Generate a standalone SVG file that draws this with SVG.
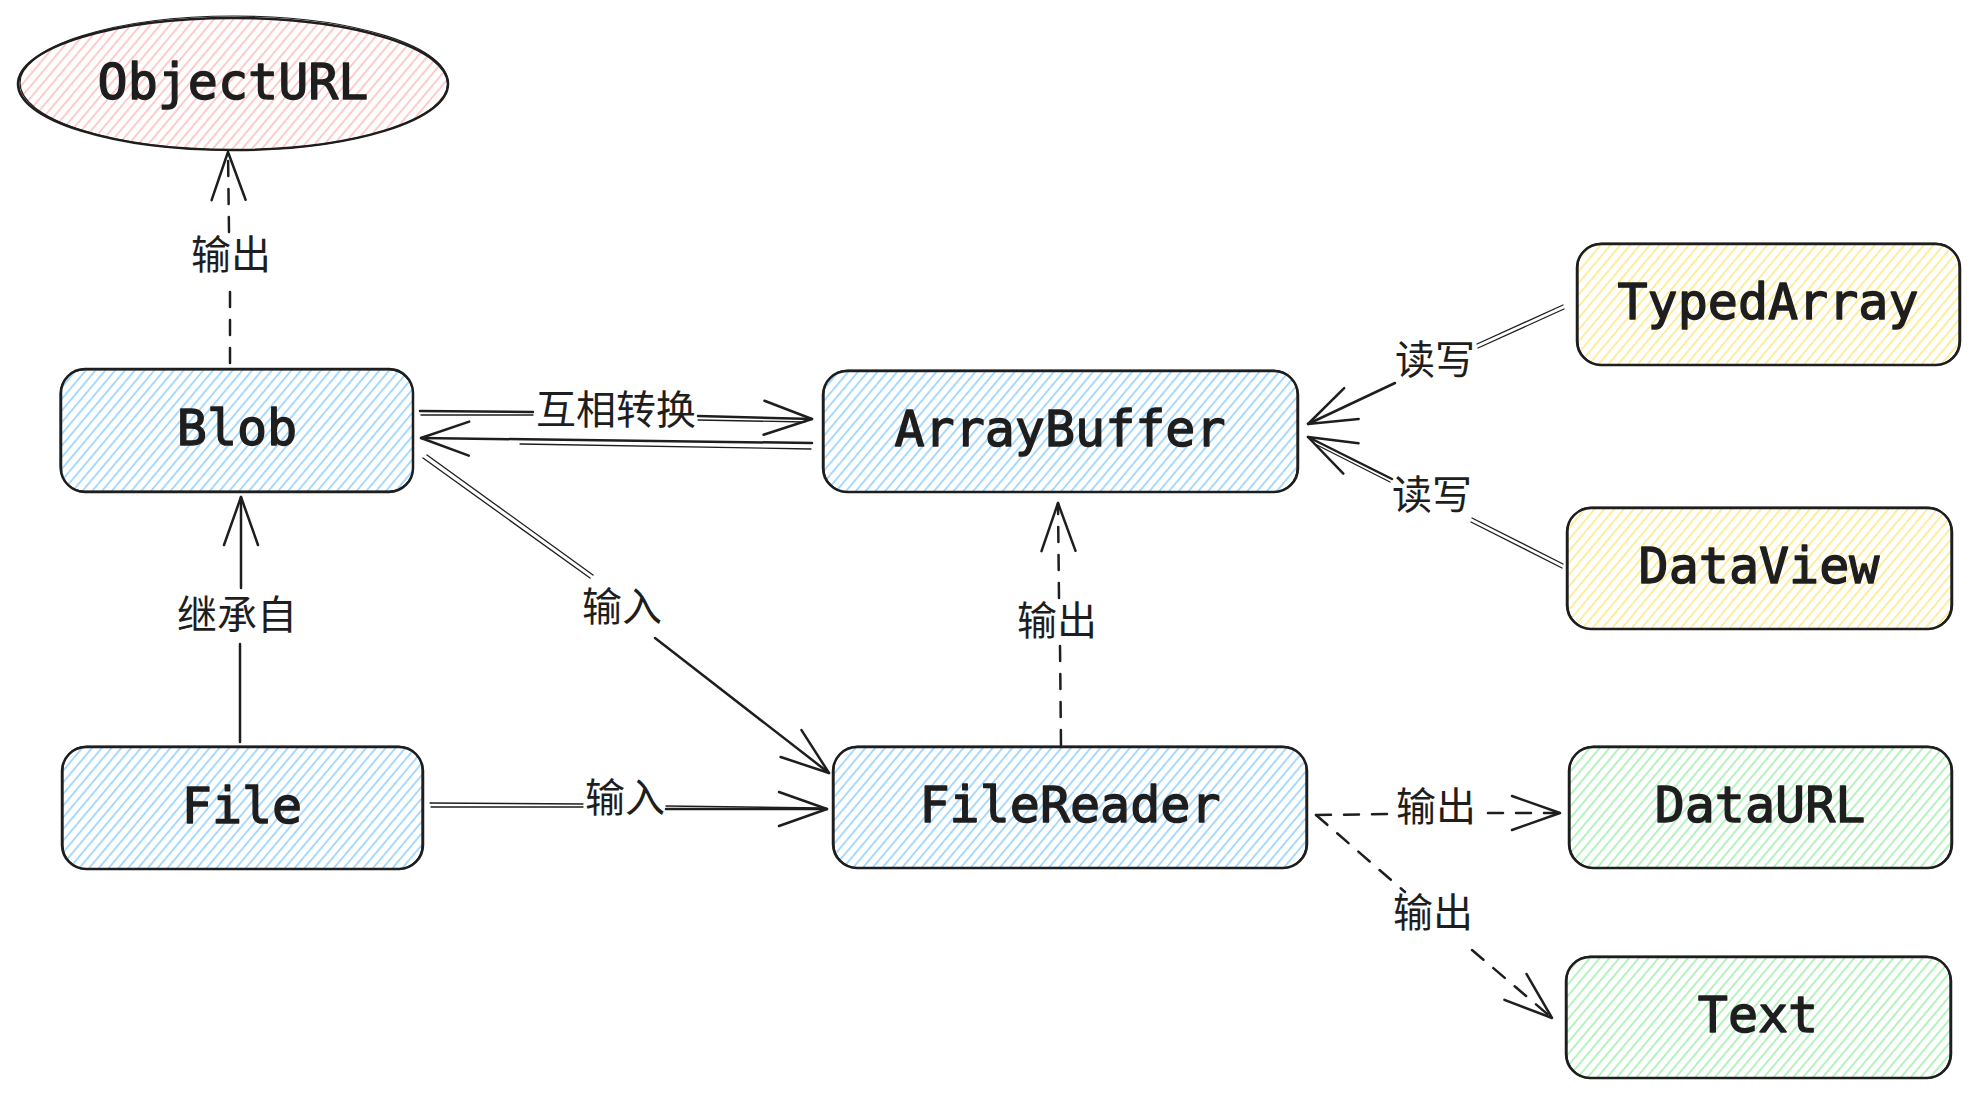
<svg xmlns="http://www.w3.org/2000/svg" width="1980" height="1098" viewBox="0 0 1980 1098">
  <defs>
    <pattern id="h-blue" patternUnits="userSpaceOnUse" width="7.5" height="20" patternTransform="rotate(40)">
      <line x1="3.75" y1="-2" x2="3.75" y2="22" stroke="#a5d8ff" stroke-width="1.9"/>
    </pattern>
    <pattern id="h-red" patternUnits="userSpaceOnUse" width="7.5" height="20" patternTransform="rotate(40)">
      <line x1="3.75" y1="-2" x2="3.75" y2="22" stroke="#ffc9c9" stroke-width="1.9"/>
    </pattern>
    <pattern id="h-yellow" patternUnits="userSpaceOnUse" width="7.5" height="20" patternTransform="rotate(40)">
      <line x1="3.75" y1="-2" x2="3.75" y2="22" stroke="#ffec99" stroke-width="1.9"/>
    </pattern>
    <pattern id="h-green" patternUnits="userSpaceOnUse" width="7.5" height="20" patternTransform="rotate(40)">
      <line x1="3.75" y1="-2" x2="3.75" y2="22" stroke="#b2f2bb" stroke-width="1.9"/>
    </pattern>
    <marker id="ah" markerUnits="userSpaceOnUse" markerWidth="60" markerHeight="44" viewBox="-55 -22 60 44" refX="0" refY="0" orient="auto" overflow="visible">
      <path d="M-48 -17 L0 0 L-48 17" fill="none" stroke="#1e1e1e" stroke-width="2.5" stroke-linecap="round" stroke-linejoin="round" stroke-dasharray="none"/>
    </marker>
    <style>
      .box { stroke: #1e1e1e; stroke-width: 2.5; }
      .box2 { fill: none; stroke: #1e1e1e; stroke-width: 1.2; }
      .nt { font-family: "DejaVu Sans Mono", "Liberation Mono", monospace; font-size: 50px; font-weight: normal; fill: #1e1e1e; stroke: #1e1e1e; stroke-width: 1.4; stroke-linejoin: round; text-anchor: middle; }
      .el { font-family: "Noto Sans CJK SC", "Noto Sans", sans-serif; font-size: 40px; fill: #1e1e1e; text-anchor: middle; }
      .ln { fill: none; stroke: #1e1e1e; stroke-width: 2.5; stroke-linecap: round; }
      .ln2 { fill: none; stroke: #1e1e1e; stroke-width: 1.3; stroke-linecap: round; }
      .dash { stroke-dasharray: 15 13; }
    </style>
  </defs>
  <rect width="1980" height="1098" fill="#ffffff"/>

  <g id="connectors">
    <!-- Blob -> ObjectURL -->
    <path class="ln dash" d="M230 363 L230 280"/>
    <path class="ln dash" d="M229 232 L228 152" marker-end="url(#ah)"/>
    <text class="el" x="231" y="269">输出</text>

    <!-- File -> Blob -->
    <path class="ln" d="M240 742 L240 644"/>
    <path class="ln" d="M241 588 L241 497" marker-end="url(#ah)"/>
    <text class="el" x="237" y="629">继承自</text>

    <!-- Blob -> ArrayBuffer -->
    <path class="ln" d="M420 411 L533 412"/>
    <path class="ln2" d="M421 415 L533 415"/>
    <path class="ln2" d="M698 420 L805 422"/>
    <path class="ln" d="M698 416 L812 419" marker-end="url(#ah)"/>
    <text class="el" x="616" y="424">互相转换</text>

    <!-- ArrayBuffer -> Blob -->
    <path class="ln2" d="M811 449 L520 444"/>
    <path class="ln" d="M812 443 L421 438" marker-end="url(#ah)"/>

    <!-- Blob -> FileReader -->
    <path class="ln2" d="M423 458 L590 578"/>
    <path class="ln2" d="M427 455 L593 575"/>
    <path class="ln" d="M655 638 L829 773" marker-end="url(#ah)"/>
    <text class="el" x="622" y="621">输入</text>

    <!-- File -> FileReader -->
    <path class="ln2" d="M430 803 L583 804"/>
    <path class="ln2" d="M431 807 L583 807"/>
    <path class="ln2" d="M666 806 L822 808"/>
    <path class="ln" d="M666 809 L827 809" marker-end="url(#ah)"/>
    <text class="el" x="625" y="812">输入</text>

    <!-- FileReader -> ArrayBuffer -->
    <path class="ln dash" d="M1061 745 L1060 645"/>
    <path class="ln dash" d="M1059 598 L1058 503" marker-end="url(#ah)"/>
    <text class="el" x="1057" y="635">输出</text>

    <!-- TypedArray -> ArrayBuffer -->
    <path class="ln2" d="M1563 305 L1477 344"/>
    <path class="ln2" d="M1564 309 L1478 348"/>
    <path class="ln" d="M1395 383 L1308 424" marker-end="url(#ah)"/>
    <text class="el" x="1435" y="374">读写</text>

    <!-- DataView -> ArrayBuffer -->
    <path class="ln2" d="M1563 564 L1472 518"/>
    <path class="ln2" d="M1562 568 L1471 522"/>
    <path class="ln2" d="M1390 482 L1315 444"/>
    <path class="ln" d="M1392 479 L1308 437" marker-end="url(#ah)"/>
    <text class="el" x="1432" y="509">读写</text>

    <!-- FileReader -> DataURL -->
    <path class="ln dash" d="M1316 815 L1396 814"/>
    <path class="ln dash" d="M1488 813 L1560 813" marker-end="url(#ah)"/>
    <text class="el" x="1436" y="821">输出</text>

    <!-- FileReader -> Text -->
    <path class="ln dash" d="M1316 815 L1405 892"/>
    <path class="ln dash" d="M1472 950 L1552 1018" marker-end="url(#ah)"/>
    <text class="el" x="1433" y="927">输出</text>
  </g>

  <g id="node-objecturl">
    <ellipse class="box" cx="233" cy="84" rx="215" ry="66" fill="url(#h-red)"/>
    <ellipse class="box2" cx="234" cy="83" rx="214" ry="67"/>
    <text class="nt" x="233" y="99">ObjectURL</text>
  </g>

  <g id="node-blob">
    <rect class="box" x="61" y="369" width="352" height="123" rx="24" fill="url(#h-blue)"/>
    <rect class="box2" x="60" y="370" width="353" height="121" rx="24"/>
    <text class="nt" x="237" y="445">Blob</text>
  </g>

  <g id="node-arraybuffer">
    <rect class="box" x="823" y="371" width="475" height="121" rx="24" fill="url(#h-blue)"/>
    <rect class="box2" x="824" y="370" width="473" height="122" rx="24"/>
    <text class="nt" x="1060" y="446">ArrayBuffer</text>
  </g>

  <g id="node-typedarray">
    <rect class="box" x="1577" y="244" width="383" height="121" rx="24" fill="url(#h-yellow)"/>
    <rect class="box2" x="1578" y="243" width="381" height="122" rx="24"/>
    <text class="nt" x="1768" y="319">TypedArray</text>
  </g>

  <g id="node-dataview">
    <rect class="box" x="1567" y="508" width="385" height="121" rx="24" fill="url(#h-yellow)"/>
    <rect class="box2" x="1568" y="507" width="383" height="122" rx="24"/>
    <text class="nt" x="1759" y="583">DataView</text>
  </g>

  <g id="node-file">
    <rect class="box" x="62" y="747" width="361" height="122" rx="24" fill="url(#h-blue)"/>
    <rect class="box2" x="63" y="746" width="359" height="123" rx="24"/>
    <text class="nt" x="242" y="823">File</text>
  </g>

  <g id="node-filereader">
    <rect class="box" x="833" y="747" width="474" height="121" rx="24" fill="url(#h-blue)"/>
    <rect class="box2" x="834" y="746" width="472" height="122" rx="24"/>
    <text class="nt" x="1070" y="822">FileReader</text>
  </g>

  <g id="node-dataurl">
    <rect class="box" x="1569" y="747" width="383" height="121" rx="24" fill="url(#h-green)"/>
    <rect class="box2" x="1570" y="746" width="381" height="122" rx="24"/>
    <text class="nt" x="1760" y="822">DataURL</text>
  </g>

  <g id="node-text">
    <rect class="box" x="1566" y="957" width="385" height="121" rx="24" fill="url(#h-green)"/>
    <rect class="box2" x="1567" y="956" width="383" height="122" rx="24"/>
    <text class="nt" x="1758" y="1032">Text</text>
  </g>
</svg>
